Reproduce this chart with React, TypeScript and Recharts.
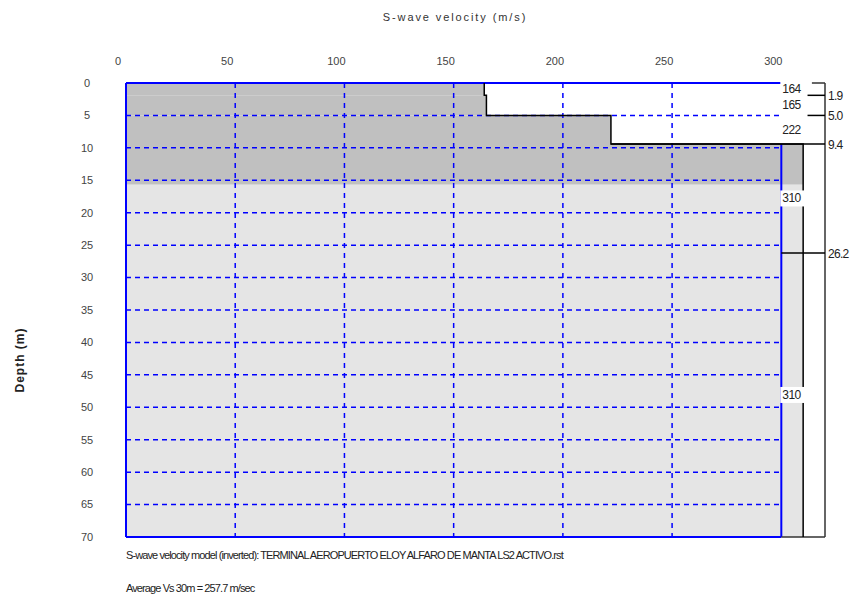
import React from 'react';
import {
  ComposedChart,
  XAxis,
  YAxis,
  Scatter,
  ReferenceArea,
  ReferenceLine,
} from 'recharts';

// layered Vs model (depth in m, velocity in m/s)
const layerTops = [0, 1.9, 5.0, 9.4, 26.2];
const layerBottoms = [1.9, 5.0, 9.4, 26.2, 70];
const layerVs = [164, 165, 222, 310, 310];
const boundaryDepths = [1.9, 5.0, 9.4, 26.2];
const boundaryLabels = ['1.9', '5.0', '9.4', '26.2'];
const resolvedDepth = 15.7;

const xTicks = [0, 50, 100, 150, 200, 250, 300];
const yTicks = [0, 5, 10, 15, 20, 25, 30, 35, 40, 45, 50, 55, 60, 65, 70];
const xMax = 300;
const yMax = 70;
const rulerVs = 320;

const title = 'S-wave velocity (m/s)';
const yTitle = 'Depth (m)';
const footer1 = 'S-wave velocity model (inverted): TERMINAL AEROPUERTO ELOY ALFARO DE MANTA LS2 ACTIVO.rst';
const footer2 = 'Average Vs 30m = 257.7 m/sec';

const BLUE = '#0000ff';
const DARK = '#c0c0c0';
const LIGHT = '#e5e5e5';

const profile = layerVs.flatMap((vs, i) => [
  { vs, depth: layerTops[i] },
  { vs, depth: layerBottoms[i] },
]);

const layerLabels = layerVs.map((vs, i) => ({
  vs: xMax,
  depth: (layerTops[i] + layerBottoms[i]) / 2,
  label: String(vs),
}));

const depthLabels = boundaryDepths.map((d, i) => ({
  vs: rulerVs,
  depth: d,
  label: boundaryLabels[i],
}));

const LayerLabel = (props: any) => {
  const { cx, cy, payload } = props;
  return (
    <g>
      <rect x={cx - 1} y={cy - 8} width={24} height={16} fill="#fff" />
      <text x={cx + 1} y={cy + 4} fontSize={12} fill="#222" fontFamily="'Liberation Sans', sans-serif" letterSpacing={-0.6}>
        {payload.label}
      </text>
    </g>
  );
};

const DepthLabel = (props: any) => {
  const { cx, cy, payload } = props;
  return (
    <text x={cx + 3} y={cy + 5} fontSize={12} fill="#222" fontFamily="'Liberation Sans', sans-serif" letterSpacing={-0.7}>
      {payload.label}
    </text>
  );
};

const NoDot = () => <g />;

const textFont = "'Liberation Sans', Arial, sans-serif";

export default function App() {
  const gridX = xTicks.filter((t) => t > 0 && t < xMax);
  const gridY = yTicks.filter((t) => t > 0 && t < yMax);

  return (
    <div style={{ position: 'relative', width: 850, height: 590, fontFamily: textFont }}>
      <div
        style={{
          position: 'absolute',
          left: 447,
          top: 3,
          transform: 'translateX(-50%)',
          fontSize: 11,
          letterSpacing: 1.9,
          color: '#333',
          whiteSpace: 'nowrap',
        }}
      >
        {title}
      </div>
      <div
        style={{
          position: 'absolute',
          left: 12,
          top: 352,
          transform: 'translate(-50%, -50%) rotate(-90deg)',
          fontSize: 12,
          fontWeight: 'bold',
          letterSpacing: 1,
          color: '#222',
          whiteSpace: 'nowrap',
        }}
      >
        {yTitle}
      </div>
      <ComposedChart
        width={850}
        height={590}
        margin={{ top: 45, right: 33, bottom: 61, left: 8 }}
      >
        <XAxis
          type="number"
          dataKey="vs"
          orientation="top"
          domain={[0, rulerVs]}
          ticks={xTicks}
          axisLine={false}
          tickLine={false}
          height={30}
          tickMargin={12}
          tick={{ fontSize: 11, fill: '#444', dx: -8 }}
        />
        <YAxis
          type="number"
          dataKey="depth"
          reversed
          domain={[0, yMax]}
          ticks={yTicks}
          axisLine={false}
          tickLine={false}
          width={110}
          tickMargin={33}
          tick={{ fontSize: 11, fill: '#444', textAnchor: 'middle' }}
        />

        {/* shaded layers: dark above resolved depth, light below */}
        {layerVs.map((vs, i) =>
          layerTops[i] < resolvedDepth ? (
            <ReferenceArea
              key={`d${i}`}
              x1={0}
              x2={vs}
              y1={layerTops[i]}
              y2={Math.min(layerBottoms[i], resolvedDepth)}
              fill={DARK}
              fillOpacity={1}
              stroke="none"
              ifOverflow="visible"
            />
          ) : null
        )}
        {layerVs.map((vs, i) =>
          layerBottoms[i] > resolvedDepth ? (
            <ReferenceArea
              key={`l${i}`}
              x1={0}
              x2={vs}
              y1={Math.max(layerTops[i], resolvedDepth)}
              y2={layerBottoms[i]}
              fill={LIGHT}
              fillOpacity={1}
              stroke="none"
              ifOverflow="visible"
            />
          ) : null
        )}

        {/* dashed grid */}
        {gridX.map((t) => (
          <ReferenceLine
            key={`gx${t}`}
            segment={[{ x: t, y: 0 }, { x: t, y: yMax }]}
            stroke={BLUE}
            strokeWidth={1.5}
            strokeDasharray="5 5"
          />
        ))}
        {gridY.map((t) => (
          <ReferenceLine
            key={`gy${t}`}
            segment={[{ x: 0, y: t }, { x: xMax, y: t }]}
            stroke={BLUE}
            strokeWidth={1.5}
            strokeDasharray="5 4"
          />
        ))}

        {/* frame */}
        <ReferenceLine segment={[{ x: 0, y: 0 }, { x: xMax, y: 0 }]} stroke={BLUE} strokeWidth={2} />
        <ReferenceLine segment={[{ x: 0, y: 0 }, { x: 0, y: yMax }]} stroke={BLUE} strokeWidth={2} />
        <ReferenceLine segment={[{ x: 0, y: yMax }, { x: xMax, y: yMax }]} stroke={BLUE} strokeWidth={2} />
        <ReferenceLine segment={[{ x: xMax, y: layerTops[3] }, { x: xMax, y: yMax }]} stroke={BLUE} strokeWidth={2} />

        {/* depth ruler */}
        <ReferenceLine segment={[{ x: rulerVs, y: 0 }, { x: rulerVs, y: yMax }]} stroke="#333" strokeWidth={1.5} />
        <ReferenceLine segment={[{ x: rulerVs - 6, y: 0 }, { x: rulerVs, y: 0 }]} stroke="#333" strokeWidth={1.5} />
        {boundaryDepths.map((d, i) => (
          <ReferenceLine
            key={`rt${i}`}
            segment={[
              { x: i === boundaryDepths.length - 1 ? xMax : i === 2 ? layerVs[2] : rulerVs - 8, y: d },
              { x: rulerVs, y: d },
            ]}
            stroke="#000"
            strokeWidth={1.5}
          />
        ))}
        <ReferenceLine segment={[{ x: xMax, y: yMax }, { x: rulerVs, y: yMax }]} stroke="#333" strokeWidth={1.5} />

        {/* Vs profile */}
        <Scatter
          data={profile}
          line={{ stroke: '#000', strokeWidth: 1.5 }}
          shape={NoDot}
          isAnimationActive={false}
          legendType="none"
        />
        <Scatter data={layerLabels} shape={LayerLabel} isAnimationActive={false} legendType="none" />
        <Scatter data={depthLabels} shape={DepthLabel} isAnimationActive={false} legendType="none" />
      </ComposedChart>
      <div
        style={{
          position: 'absolute',
          left: 118,
          top: 541,
          fontSize: 11,
          letterSpacing: -0.9,
          color: '#222',
          whiteSpace: 'nowrap',
        }}
      >
        {footer1}
      </div>
      <div
        style={{
          position: 'absolute',
          left: 118,
          top: 574,
          fontSize: 11,
          letterSpacing: -0.9,
          color: '#222',
          whiteSpace: 'nowrap',
        }}
      >
        {footer2}
      </div>
    </div>
  );
}
